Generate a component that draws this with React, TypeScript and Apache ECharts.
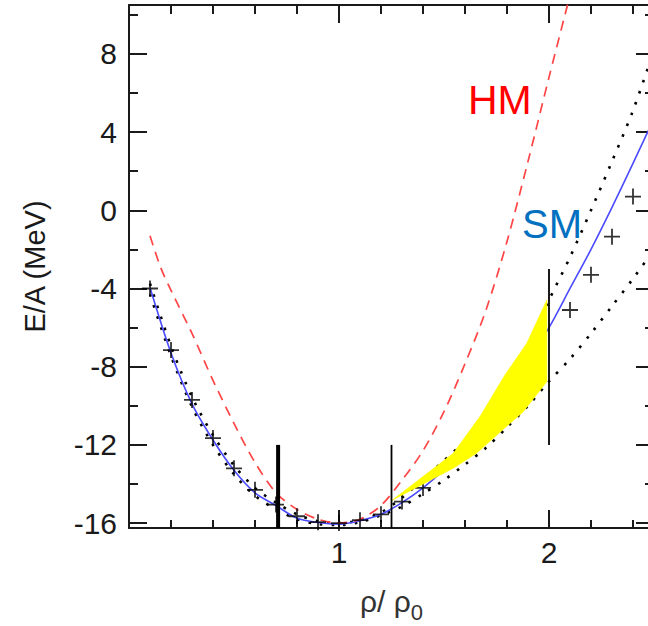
import React, { useEffect, useRef } from "react";
import * as echarts from "echarts";

// ---------- data ----------
const xMin = 0;
const xMax = 2.5;
const yMin = -16.25;
const yMax = 10.5;

const xMajorTicks = [1, 2];
const xMinorTicks = [0.2, 0.4, 0.6, 0.8, 1.2, 1.4, 1.6, 1.8, 2.2, 2.4];
const yMajorTicks = [-16, -12, -8, -4, 0, 4, 8];
const yMinorTicks = [-14, -10, -6, -2, 2, 6, 10];

// HM (hard) EOS, red dashed
const hmX = [0.1, 0.15, 0.2, 0.3, 0.4, 0.5, 0.6, 0.7, 0.8, 0.9, 1.0, 1.1, 1.2, 1.3, 1.4, 1.5, 1.6, 1.7, 1.8, 1.9, 2.0, 2.1];
const hmY = [-1.3, -2.9, -4.1, -6.3, -8.7, -10.9, -12.9, -14.45, -15.3, -15.8, -16.0, -15.8, -15.1, -13.8, -12.3, -10.3, -7.85, -5.1, -1.6, 2.5, 6.8, 11.0];

// SM (soft) EOS, blue solid
const smX = [0.1, 0.2, 0.3, 0.4, 0.5, 0.6, 0.7, 0.8, 0.9, 1.0, 1.1, 1.2, 1.3, 1.4, 1.5, 1.6, 1.7, 1.8, 1.9, 2.0, 2.1, 2.2, 2.3, 2.4, 2.5];
const smY = [-3.95, -7.3, -9.9, -11.75, -13.3, -14.45, -15.1, -15.75, -15.97, -16.05, -15.88, -15.55, -14.95, -14.2, -13.25, -12.1, -10.75, -9.25, -7.65, -6.0, -4.0, -2.0, 0.15, 2.4, 4.7];

// dotted curves
const stiffDotX = smX;
const stiffDotY = [-3.75, -6.95, -9.55, -11.5, -13.05, -14.2, -14.95, -15.55, -15.9, -16.0, -15.85, -15.45, -14.7, -13.75, -12.8, -11.8, -10.6, -9.0, -7.1, -4.6, -2.4, 0.0, 2.5, 5.1, 8.2];
const softDotX = smX;
const softDotY = [-4.3, -7.45, -10.05, -12.0, -13.5, -14.6, -15.3, -15.8, -16.05, -16.1, -15.95, -15.6, -15.15, -14.5, -13.8, -13.0, -12.15, -11.1, -10.0, -8.75, -7.6, -6.3, -4.9, -3.5, -2.0];

// "+" points
const plusX = [0.1, 0.2, 0.3, 0.4, 0.5, 0.6, 0.7, 0.8, 0.9, 1.0, 1.1, 1.2, 1.3, 1.4, 2.1, 2.2, 2.3, 2.4];
const plusY = [-4.0, -7.15, -9.7, -11.65, -13.2, -14.3, -15.05, -15.65, -15.95, -16.0, -15.85, -15.55, -14.9, -14.2, -5.1, -3.3, -1.35, 0.7];

// vertical bars
const barX = [0.71, 1.25, 2.0];
const barTop = [-12, -12, -3];
const barBottom = [-16.25, -16.25, -12];
const barWidths = [4, 1.8, 1.8];

// yellow constraint region (polygon)
const regionX = [1.25, 1.544, 1.671, 1.79, 1.894, 1.99, 1.99, 1.878, 1.78, 1.655, 1.544, 1.25];
const regionY = [-14.85, -12.43, -10.55, -8.42, -6.8, -4.58, -8.76, -10.3, -11.23, -12.43, -13.2, -14.85];

const zip = (xs: number[], ys: number[]) => xs.map((x, i) => [x, ys[i]]);

const FONT = "'Liberation Sans', Arial, sans-serif";
const AXIS_COLOR = "#1a1a1a";

export default function App() {
  const ref = useRef<HTMLDivElement>(null);

  useEffect(() => {
    if (!ref.current) return;
    const chart = echarts.init(ref.current, null, { renderer: "svg" });

    const lineStyle = { color: AXIS_COLOR, width: 2 };
    const baseX = (extra: any) => ({
      type: "value",
      min: xMin,
      max: xMax,
      splitLine: { show: false },
      ...extra,
    });
    const baseY = (extra: any) => ({
      type: "value",
      min: yMin,
      max: yMax,
      splitLine: { show: false },
      ...extra,
    });

    const polygon = zip(regionX, regionY);

    const barSeries = barX.map((x, i) => ({
      type: "line",
      data: [
        [x, barTop[i]],
        [x, barBottom[i]],
      ],
      symbol: "none",
      lineStyle: { color: "#000", width: barWidths[i] },
      z: 6,
      silent: true,
    }));

    chart.setOption({
      animation: false,
      grid: {
        left: 129,
        top: 5,
        right: -6,
        bottom: 98,
        containLabel: false,
        outerBoundsMode: "none",
      },
      xAxis: [
        baseX({
          position: "bottom",
          axisLine: { show: true, onZero: false, lineStyle },
          axisTick: { show: true, inside: true, length: 18, customValues: xMajorTicks, lineStyle },
          axisLabel: {
            show: true,
            customValues: xMajorTicks,
            fontSize: 30,
            fontFamily: FONT,
            color: AXIS_COLOR,
            margin: 9,
          },
          name: "{a|ρ/ ρ}{b|0}",
          nameLocation: "middle",
          nameGap: 51,
          nameTextStyle: {
            color: "#333",
            rich: {
              a: { fontSize: 30, fontFamily: FONT, color: "#333" },
              b: { fontSize: 22, fontFamily: FONT, color: "#333", padding: [22, 0, 0, 0] },
            },
          },
        }),
        baseX({
          position: "bottom",
          axisLine: { show: false, onZero: false },
          axisTick: { show: true, inside: true, length: 8, customValues: xMinorTicks, lineStyle },
          axisLabel: { show: false },
        }),
        baseX({
          position: "top",
          axisLine: { show: true, onZero: false, lineStyle },
          axisTick: { show: true, inside: true, length: 18, customValues: xMajorTicks, lineStyle },
          axisLabel: { show: false },
        }),
        baseX({
          position: "top",
          axisLine: { show: false, onZero: false },
          axisTick: { show: true, inside: true, length: 9, customValues: xMinorTicks, lineStyle },
          axisLabel: { show: false },
        }),
      ],
      yAxis: [
        baseY({
          position: "left",
          axisLine: { show: true, onZero: false, lineStyle },
          axisTick: { show: true, inside: true, length: 18, customValues: yMajorTicks, lineStyle },
          axisLabel: {
            show: true,
            customValues: yMajorTicks,
            fontSize: 30,
            fontFamily: FONT,
            color: AXIS_COLOR,
            margin: 12,
          },
          name: "E/A (MeV)",
          nameLocation: "middle",
          nameRotate: 90,
          nameGap: 80,
          nameTextStyle: { fontSize: 29, fontFamily: FONT, color: AXIS_COLOR },
        }),
        baseY({
          position: "left",
          axisLine: { show: false, onZero: false },
          axisTick: { show: true, inside: true, length: 9, customValues: yMinorTicks, lineStyle },
          axisLabel: { show: false },
        }),
        baseY({
          position: "right",
          axisLine: { show: true, onZero: false, lineStyle },
          axisTick: { show: true, inside: true, length: 18, customValues: yMajorTicks, lineStyle },
          axisLabel: { show: false },
        }),
        baseY({
          position: "right",
          axisLine: { show: false, onZero: false },
          axisTick: { show: true, inside: true, length: 9, customValues: yMinorTicks, lineStyle },
          axisLabel: { show: false },
        }),
      ],
      graphic: [
        {
          type: "text",
          x: 468,
          y: 100,
          style: {
            text: "HM",
            fill: "#ff0000",
            font: `41px ${FONT}`,
            textAlign: "left",
            textVerticalAlign: "middle",
          },
          z: 10,
        },
        {
          type: "text",
          x: 522,
          y: 224,
          style: {
            text: "SM",
            fill: "#0070c0",
            font: `40px ${FONT}`,
            textAlign: "left",
            textVerticalAlign: "middle",
          },
          z: 10,
        },
      ],
      series: [
        {
          name: "stiff dotted",
          type: "line",
          data: zip(stiffDotX, stiffDotY),
          symbol: "none",
          smooth: 0.3,
          lineStyle: { color: "#000", width: 2.6, type: [2.6, 9], cap: "butt" },
          z: 2,
        },
        {
          name: "soft dotted",
          type: "line",
          data: zip(softDotX, softDotY),
          symbol: "none",
          smooth: 0.3,
          lineStyle: { color: "#000", width: 2.6, type: [2.6, 9], cap: "butt" },
          z: 2,
        },
        {
          name: "SM",
          type: "line",
          data: zip(smX, smY),
          symbol: "none",
          smooth: 0.3,
          lineStyle: { color: "#4a4aff", width: 1.6 },
          z: 3,
        },
        {
          name: "data",
          type: "scatter",
          data: zip(plusX, plusY),
          symbol: "path://M8,0V16M0,8H16",
          symbolSize: 16,
          itemStyle: { color: "none", borderColor: "#000", borderWidth: 1.8 },
          z: 3,
        },
        {
          name: "HM",
          type: "line",
          data: zip(hmX, hmY),
          symbol: "none",
          smooth: 0.3,
          lineStyle: { color: "#ff4545", width: 1.7, type: [10, 7] },
          z: 3,
        },
        {
          name: "region",
          type: "custom",
          data: polygon,
          clip: true,
          z: 5,
          renderItem: (params: any, api: any) => {
            if (params.dataIndex !== 0) return null;
            const pts = polygon.map((p) => api.coord(p));
            return {
              type: "polygon",
              shape: { points: pts },
              style: { fill: "#ffff00", stroke: "#ffff00", lineWidth: 0.5 },
            };
          },
        },
        ...barSeries,
      ],
    });

    return () => {
      chart.dispose();
    };
  }, []);

  return (
    <div
      ref={ref}
      style={{ position: "fixed", left: 0, top: 0, width: 648, height: 626, background: "#fff" }}
    />
  );
}
